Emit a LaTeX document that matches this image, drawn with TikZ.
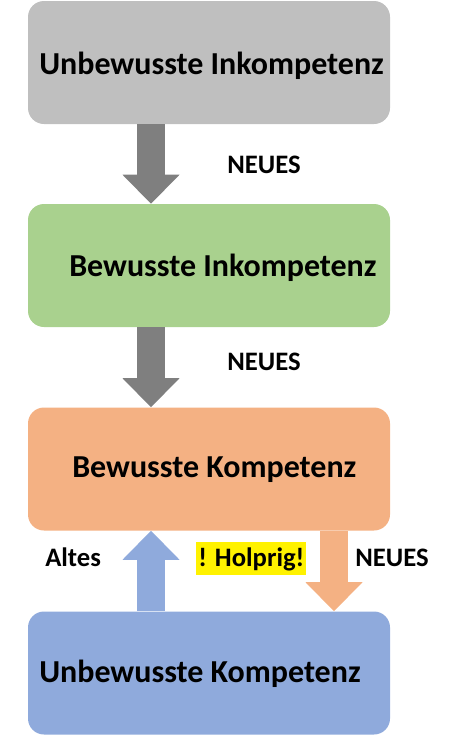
\documentclass[tikz,border=0pt]{standalone}
\usepackage{fontspec}
\setmainfont{Carlito}
\usepackage{tikz}
\usetikzlibrary{calc}
\usetikzlibrary{arrows.meta}

\definecolor{boxgrey}{HTML}{BFBFBF}
\definecolor{arrowgrey}{HTML}{7F7F7F}
\definecolor{boxgreen}{HTML}{A9D18E}
\definecolor{boxorange}{HTML}{F4B183}
\definecolor{boxblue}{HTML}{8FAADC}

\begin{document}
\begin{tikzpicture}
		[
		x=0.75pt, y=-0.75pt,
		font=\bfseries
		]
		
		% Node styles: stage boxes, titles and notes
		\tikzstyle{stage}=[rectangle,rounded corners=12pt,minimum width=271.5pt,minimum height=92.25pt,inner sep=0];
		\tikzstyle{title}=[anchor=base west,inner sep=0,font=\fontsize{24}{28}\selectfont\bfseries];
		\tikzstyle{note}=[anchor=base west,inner sep=0,font=\fontsize{20}{24}\selectfont\bfseries];
		% Broad arrows between the stages
		\tikzstyle{block arrow}=[line width=21pt,-{Triangle[width=42.75pt,length=21.75pt,line width=0pt]}];
		
		\useasboundingbox (0,0) rectangle (462,736);
		
		% The four stages
		\node(s1)[stage,fill=boxgrey]at(209,62.5){};
		\node(s2)[stage,fill=boxgreen]at(209,265.5){};
		\node(s3)[stage,fill=boxorange]at(209,469){};
		\node(s4)[stage,fill=boxblue]at(209,673){};
		
		% Titles
		\node(t1)[title]at(39,74){Unbewusste Inkompetenz};
		\node(t2)[title]at(69,276){Bewusste Inkompetenz};
		\node(t3)[title]at(72,477){Bewusste Kompetenz};
		\node(t4)[title]at(39,682){Unbewusste Kompetenz};
		
		% Arrows
		% downwards, new things
		\foreach\a/\b in {s1/s2, s2/s3}\draw[block arrow, draw=arrowgrey]([xshift=-43.5pt]\a.south)to([xshift=-43.5pt]\b.north);
		\draw[block arrow, draw=boxorange]([xshift=93.75pt]s3.south)to([xshift=93.75pt]s4.north);
		% upwards, old things
		\draw[block arrow, draw=boxblue]([xshift=-43.5pt]s4.north)to([xshift=-43.5pt]s3.south);
		
		% Notes beside the arrows
		\node(n1)[note]at(227,173){NEUES};
		\node(n2)[note]at(227,370){NEUES};
		\node(n3)[note]at(355,566){NEUES};
		\node(old)[note]at(45,566){Altes};
		\node(bumpy)[note,fill=yellow,inner xsep=1.5pt,text height=18pt,text depth=6.75pt]at(196,566){! Holprig!};
		
		\end{tikzpicture}
\end{document}
